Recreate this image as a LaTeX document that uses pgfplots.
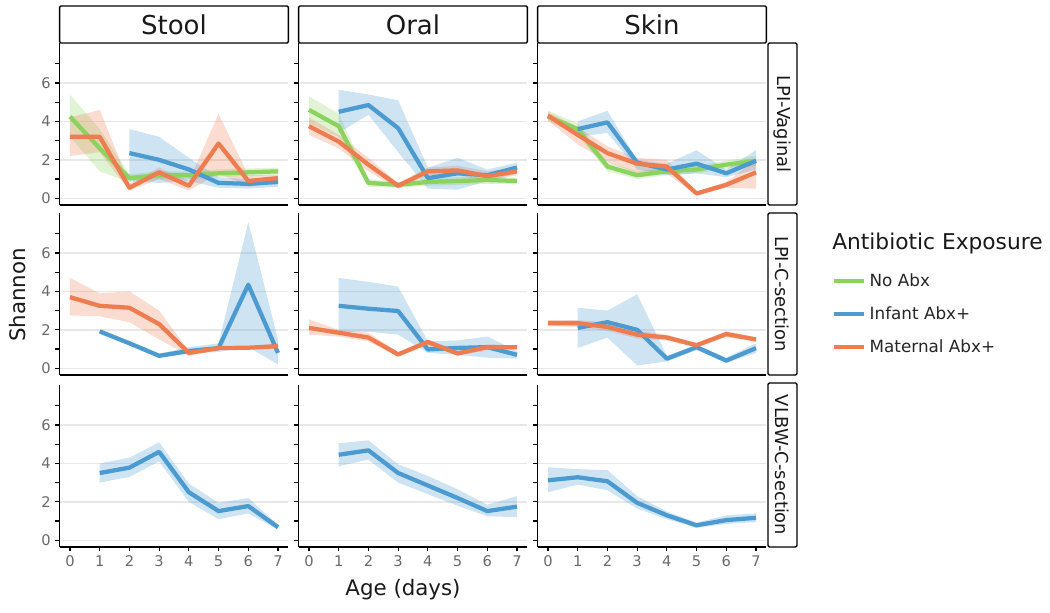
\documentclass[border=0pt]{standalone}
\usepackage{pgfplots}
\pgfplotsset{compat=1.18}
\usepackage{fontspec}
\setmainfont{DejaVu Sans}
\definecolor{cg}{RGB}{140,210,95}
\definecolor{cb}{RGB}{75,155,208}
\definecolor{co}{RGB}{237,125,80}
\definecolor{gridc}{RGB}{232,232,232}
\definecolor{tickc}{RGB}{105,105,105}

\pgfplotsset{
  panel/.style={
    scale only axis, width=171.6pt, height=121.5pt,
    xmin=-0.35, xmax=7.35, ymin=-0.35, ymax=8.08,
    axis x line*=bottom, axis y line*=left,
    axis line style={line width=1.1pt, black},
    xtick={0,...,7}, ytick={0,2,4,6}, minor ytick={1,3,5,7},
    tick align=outside, major tick length=3.2pt, minor tick length=3.2pt,
    every tick/.style={black, line width=0.9pt},
    ymajorgrids, major grid style={line width=1pt, gridc},
    tick label style={font=\fontsize{11}{13}\selectfont, text=tickc},
    /pgf/number format/assume math mode=true,
    anchor=south west,
  },
  noxl/.style={xticklabels={}, xtick style={draw=none}},
  noyl/.style={yticklabels={}},
  band/.style={fill=#1, fill opacity=0.27, draw=none, forget plot},
  ln/.style={#1, line width=3.2pt, line join=round, forget plot},
}

\begin{document}
\begin{tikzpicture}
\useasboundingbox (0pt,0pt) rectangle (787.5pt,-459pt);

% ===== Row 1: LPI-Vaginal =====
\begin{axis}[panel, noxl, at={(44.7pt,-153.75pt)}]
  \addplot[band=cg] coordinates {(0,5.4)(1,3.6)(2,1.25)(3,1.4)(4,1.4)(5,1.5)(6,1.55)(7,1.6)(7,1.2)(6,1.15)(5,1.1)(4,1.0)(3,1.0)(2,0.85)(1,1.4)(0,3.2)};
  \addplot[band=co] coordinates {(0,4.2)(1,4.6)(2,0.75)(3,1.6)(4,0.9)(5,4.4)(6,1.2)(7,1.2)(7,0.8)(6,0.6)(5,1.3)(4,0.4)(3,1.0)(2,0.4)(1,2.4)(0,2.2)};
  \addplot[band=cb] coordinates {(2,3.6)(3,3.2)(4,2.1)(5,1.1)(6,1.0)(7,1.1)(7,0.6)(6,0.5)(5,0.55)(4,0.9)(3,0.8)(2,0.9)};
  \addplot[ln=cg] coordinates {(0,4.25)(1,2.6)(2,1.05)(3,1.2)(4,1.2)(5,1.3)(6,1.35)(7,1.4)};
  \addplot[ln=cb] coordinates {(2,2.35)(3,2.0)(4,1.5)(5,0.8)(6,0.75)(7,0.85)};
  \addplot[ln=co] coordinates {(0,3.2)(1,3.2)(2,0.55)(3,1.35)(4,0.65)(5,2.85)(6,0.9)(7,1.05)};
\end{axis}
\begin{axis}[panel, noxl, noyl, at={(223.95pt,-153.75pt)}]
  \addplot[band=cg] coordinates {(0,5.3)(1,4.4)(2,1.0)(3,0.85)(4,1.05)(5,1.1)(6,1.15)(7,1.05)(7,0.75)(6,0.75)(5,0.7)(4,0.65)(3,0.55)(2,0.6)(1,3.2)(0,3.9)};
  \addplot[band=co] coordinates {(0,4.2)(1,3.3)(2,2.1)(3,0.8)(4,1.6)(5,1.7)(6,1.4)(7,1.6)(7,1.2)(6,0.9)(5,1.2)(4,1.2)(3,0.5)(2,1.4)(1,2.6)(0,3.3)};
  \addplot[band=cb] coordinates {(1,5.65)(2,5.4)(3,5.1)(4,1.6)(5,2.1)(6,1.5)(7,1.85)(7,1.3)(6,0.9)(5,0.45)(4,0.5)(3,2.4)(2,4.35)(1,3.4)};
  \addplot[ln=cg] coordinates {(0,4.6)(1,3.75)(2,0.8)(3,0.7)(4,0.85)(5,0.9)(6,0.95)(7,0.9)};
  \addplot[ln=cb] coordinates {(1,4.5)(2,4.85)(3,3.65)(4,1.05)(5,1.3)(6,1.2)(7,1.6)};
  \addplot[ln=co] coordinates {(0,3.75)(1,2.95)(2,1.75)(3,0.65)(4,1.4)(5,1.45)(6,1.15)(7,1.4)};
\end{axis}
\begin{axis}[panel, noxl, noyl, at={(403.2pt,-153.75pt)}]
  \addplot[band=cg] coordinates {(0,4.55)(1,3.9)(2,1.9)(3,1.4)(4,1.6)(5,1.7)(6,1.95)(7,2.2)(7,1.7)(6,1.55)(5,1.3)(4,1.2)(3,1.0)(2,1.4)(1,3.3)(0,4.0)};
  \addplot[band=co] coordinates {(0,4.5)(1,3.7)(2,2.7)(3,2.1)(4,2.0)(5,0.35)(6,0.85)(7,2.0)(7,0.5)(6,0.55)(5,0.15)(4,1.3)(3,1.3)(2,1.9)(1,2.8)(0,4.05)};
  \addplot[band=cb] coordinates {(1,4.0)(2,4.55)(3,2.0)(4,1.8)(5,2.5)(6,1.5)(7,2.5)(7,1.5)(6,1.1)(5,1.3)(4,1.2)(3,1.5)(2,3.4)(1,3.2)};
  \addplot[ln=cg] coordinates {(0,4.25)(1,3.6)(2,1.65)(3,1.2)(4,1.4)(5,1.5)(6,1.75)(7,1.95)};
  \addplot[ln=cb] coordinates {(1,3.6)(2,3.95)(3,1.85)(4,1.5)(5,1.8)(6,1.3)(7,1.95)};
  \addplot[ln=co] coordinates {(0,4.3)(1,3.3)(2,2.35)(3,1.8)(4,1.65)(5,0.25)(6,0.7)(7,1.35)};
\end{axis}

% ===== Row 2: LPI-C-section =====
\begin{axis}[panel, noxl, at={(44.7pt,-281.25pt)}]
  \addplot[band=co] coordinates {(0,4.7)(1,3.9)(2,4.0)(3,3.0)(4,0.9)(5,1.12)(6,1.15)(7,1.3)(7,1.05)(6,1.0)(5,0.95)(4,0.65)(3,1.5)(2,2.4)(1,2.7)(0,2.75)};
  \addplot[band=cb] coordinates {(1,2.0)(2,1.38)(3,0.75)(4,1.1)(5,1.3)(6,7.6)(7,1.5)(7,0.2)(6,1.1)(5,0.85)(4,0.75)(3,0.55)(2,1.22)(1,1.85)};
  \addplot[ln=cb] coordinates {(1,1.92)(2,1.3)(3,0.65)(4,0.9)(5,1.05)(6,4.35)(7,0.8)};
  \addplot[ln=co] coordinates {(0,3.7)(1,3.25)(2,3.15)(3,2.3)(4,0.8)(5,1.05)(6,1.07)(7,1.15)};
\end{axis}
\begin{axis}[panel, noxl, noyl, at={(223.95pt,-281.25pt)}]
  \addplot[band=co] coordinates {(0,2.55)(1,2.0)(2,1.85)(3,0.85)(4,1.5)(5,0.9)(6,1.25)(7,1.2)(7,1.0)(6,0.95)(5,0.65)(4,1.2)(3,0.6)(2,1.4)(1,1.65)(0,1.75)};
  \addplot[band=cb] coordinates {(1,4.7)(2,4.5)(3,4.25)(4,1.4)(5,1.45)(6,1.65)(7,0.9)(7,0.5)(6,0.55)(5,0.7)(4,0.8)(3,1.75)(2,1.9)(1,1.9)};
  \addplot[ln=cb] coordinates {(1,3.25)(2,3.1)(3,2.98)(4,0.98)(5,1.06)(6,1.1)(7,0.7)};
  \addplot[ln=co] coordinates {(0,2.1)(1,1.85)(2,1.6)(3,0.72)(4,1.37)(5,0.77)(6,1.1)(7,1.1)};
\end{axis}
\begin{axis}[panel, noxl, noyl, at={(403.2pt,-281.25pt)},
  legend style={at={(axis description cs:1.287,0.377)}, anchor=west, draw=none, fill=none,
    inner sep=0pt, row sep=8.5pt, font=\fontsize{12.6}{14.5}\selectfont, text=black!85,
    nodes={inner sep=2.5pt}},
  legend cell align=left,
  legend image code/.code={\draw[#1] (0pt,0pt) -- (22.5pt,0pt);}]
  \addlegendimage{cg, line width=3pt}\addlegendentry{No Abx}
  \addlegendimage{cb, line width=3pt}\addlegendentry{Infant Abx+}
  \addlegendimage{co, line width=3pt}\addlegendentry{Maternal Abx+}
  \addplot[band=co] coordinates {(0,2.5)(1,2.5)(2,2.4)(3,1.95)(4,1.75)(5,1.32)(6,1.93)(7,1.62)(7,1.38)(6,1.63)(5,1.08)(4,1.45)(3,1.55)(2,1.95)(1,2.15)(0,2.2)};
  \addplot[band=cb] coordinates {(1,3.15)(2,3.0)(3,3.85)(4,0.65)(5,1.2)(6,0.55)(7,1.3)(7,0.8)(6,0.28)(5,0.95)(4,0.35)(3,0.15)(2,1.6)(1,1.05)};
  \addplot[ln=cb] coordinates {(1,2.1)(2,2.4)(3,2.0)(4,0.5)(5,1.1)(6,0.4)(7,1.05)};
  \addplot[ln=co] coordinates {(0,2.35)(1,2.35)(2,2.15)(3,1.75)(4,1.6)(5,1.2)(6,1.78)(7,1.5)};
\end{axis}

% ===== Row 3: VLBW-C-section =====
\begin{axis}[panel, at={(44.7pt,-410.25pt)}]
  \addplot[band=cb] coordinates {(1,4.0)(2,4.3)(3,5.1)(4,2.95)(5,1.95)(6,2.2)(7,0.8)(7,0.55)(6,1.4)(5,1.1)(4,2.0)(3,4.1)(2,3.3)(1,3.0)};
  \addplot[ln=cb] coordinates {(1,3.5)(2,3.78)(3,4.6)(4,2.5)(5,1.52)(6,1.78)(7,0.68)};
\end{axis}
\begin{axis}[panel, noyl, at={(223.95pt,-410.25pt)}]
  \addplot[band=cb] coordinates {(1,5.05)(2,5.2)(3,3.95)(4,3.35)(5,2.65)(6,1.85)(7,2.3)(7,1.2)(6,1.25)(5,1.8)(4,2.4)(3,3.0)(2,4.2)(1,3.85)};
  \addplot[ln=cb] coordinates {(1,4.45)(2,4.68)(3,3.5)(4,2.85)(5,2.2)(6,1.52)(7,1.75)};
\end{axis}
\begin{axis}[panel, noyl, at={(403.2pt,-410.25pt)}]
  \addplot[band=cb] coordinates {(0,3.8)(1,3.7)(2,3.65)(3,2.3)(4,1.5)(5,0.92)(6,1.3)(7,1.4)(7,0.95)(6,0.85)(5,0.65)(4,1.1)(3,1.65)(2,2.6)(1,2.9)(0,2.5)};
  \addplot[ln=cb] coordinates {(0,3.12)(1,3.28)(2,3.07)(3,1.95)(4,1.3)(5,0.78)(6,1.05)(7,1.17)};
\end{axis}

% ===== strips and titles (px units, y down) =====
\begin{scope}[x=0.75pt,y=-0.75pt]
\begin{scope}[line width=1.1pt, rounded corners=1pt]
  \draw[fill=white] (59.6,6) rectangle (288.4,43);
  \draw[fill=white] (298.6,6) rectangle (527.4,43);
  \draw[fill=white] (537.6,6) rectangle (766.4,43);
  \draw[fill=white] (768,43) rectangle (797,205);
  \draw[fill=white] (768,213) rectangle (797,375);
  \draw[fill=white] (768,383) rectangle (797,547);
\end{scope}
\begin{scope}[every node/.style={text=black!90}]
  \node[font=\fontsize{19.5}{21}\selectfont] at (174,24.5) {Stool};
  \node[font=\fontsize{19.5}{21}\selectfont] at (413,24.5) {Oral};
  \node[font=\fontsize{19.5}{21}\selectfont] at (652,24.5) {Skin};
  \node[font=\fontsize{13.4}{15}\selectfont, rotate=-90] at (782.5,124) {LPI-Vaginal};
  \node[font=\fontsize{13.4}{15}\selectfont, rotate=-90] at (782.5,294) {LPI-C-section};
  \node[font=\fontsize{13.4}{15}\selectfont, rotate=-90] at (782.5,465) {VLBW-C-section};
  \node[font=\fontsize{16}{18}\selectfont, rotate=90] at (18,295) {Shannon};
  \node[font=\fontsize{16}{18}\selectfont] at (403,590) {Age (days)};
  \node[font=\fontsize{16.3}{18}\selectfont, anchor=west, inner sep=0pt] at (832,243) {Antibiotic Exposure};
\end{scope}
\end{scope}
\end{tikzpicture}
\end{document}
